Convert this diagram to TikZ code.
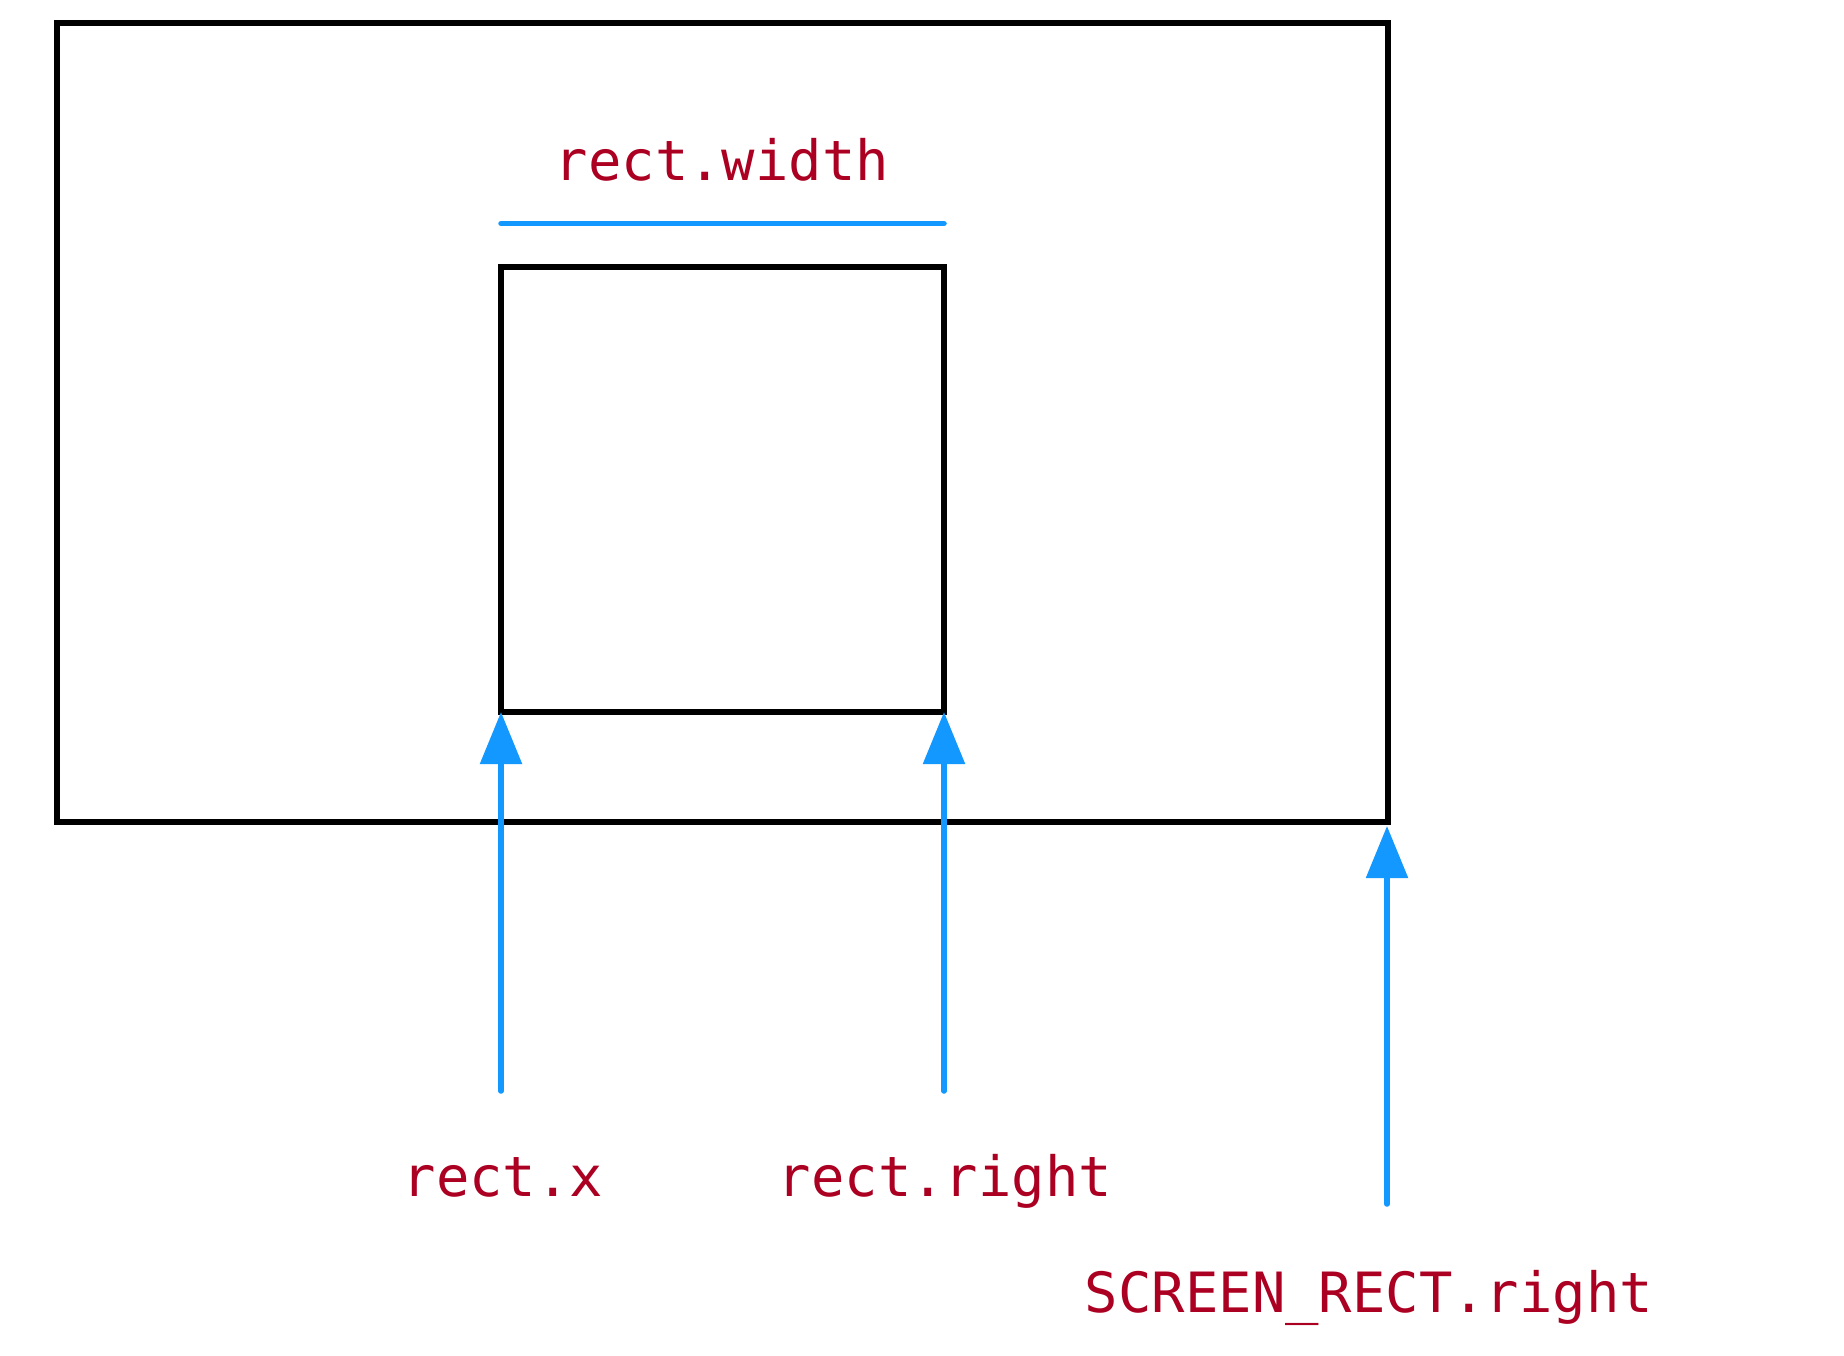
\documentclass[tikz,border=0pt]{standalone}
\usepackage{fontspec}
\newfontfamily\codefont{DejaVu Sans Mono}
\usetikzlibrary{arrows.meta}
\definecolor{labelred}{RGB}{172,0,34}
\definecolor{markblue}{RGB}{18,152,255}
\begin{document}
\begin{tikzpicture}[x=1pt,y=-1pt,
  frame/.style={draw=black,line width=5.5pt,inner sep=0pt,outer sep=0pt,line join=miter},
  codelabel/.style={text=labelred,font=\codefont\fontsize{55.5}{60}\selectfont,inner sep=0pt,anchor=base},
  pointer/.style={draw=markblue,line width=5.5pt,line cap=round,-{Triangle[length=52pt,width=41pt]}},
  measure/.style={draw=markblue,line width=5.5pt,line cap=round}]
\useasboundingbox (0,0) rectangle (1844,1356);
\fill[white] (0,0) rectangle (1844,1356);
\node[frame,minimum width=1331pt,minimum height=799pt] (screen) at (722.5,422.5) {};
\node[frame,minimum width=443pt,minimum height=445pt] (rect) at (722.5,489.5) {};
\coordinate (wl) at ([yshift=43.5pt]rect.north west);
\coordinate (wr) at ([yshift=43.5pt]rect.north east);
\draw[measure] (wl) -- (wr);
\node[codelabel] (lw) at (722,181) {rect.width};
\coordinate (sx) at (501,1091);
\coordinate (sr) at (944,1091);
\coordinate (ss) at (1387,1204);
\coordinate (tx) at (rect.south west);
\coordinate (tr) at (rect.south east);
\coordinate (ts) at (1387,826);
\draw[pointer] (sx) -- (tx);
\draw[pointer] (sr) -- (tr);
\draw[pointer] (ss) -- (ts);
\node[codelabel] (lx) at (503,1196) {rect.x};
\node[codelabel] (lr) at (945,1196) {rect.right};
\node[codelabel] (ls) at (1369,1312) {SCREEN\_RECT.right};
\end{tikzpicture}
\end{document}
